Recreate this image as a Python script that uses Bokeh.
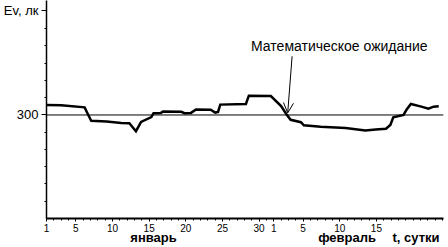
from bokeh.plotting import figure
from bokeh.models import FixedTicker, Span, Label, Arrow, OpenHead, Range1d, LinearAxis
from bokeh.embed import file_html
from bokeh.resources import INLINE

# ---- data ----
days = [1.0, 3.0, 6.2, 6.7, 7.1, 9.2, 11.2, 12.3, 13.2, 13.9, 15.3, 15.6, 16.6, 16.9,
        19.4, 19.8, 20.7, 21.4, 23.4, 24.0, 24.4, 24.7, 28.2, 28.6, 31.6, 33.0, 33.7,
        34.3, 35.7, 36.1, 38.4, 41.8, 44.5, 45.9, 47.3, 47.9, 48.3, 49.7, 50.1, 50.7,
        52.0, 53.1, 53.8, 54.5]
lux = [329, 328, 322, 300, 283, 281, 277, 276, 253, 280, 294, 305, 306, 310,
       309, 305, 306, 316, 315, 307, 309, 330, 332, 356, 355, 326, 303,
       286, 279, 270, 266, 262, 255, 258, 260, 271, 293, 300, 315, 332,
       325, 318, 324, 325]
mean_lux = 300
jan_len = 31
jan_ticks = [1, 5, 10, 15, 20, 25, 30]
feb_ticks = [1, 5, 10, 15]
y_label = "Ev, лк"
y_label_at = 603
caption_at = [15.6, 42.0, 51.4]
captions = ["январь", "февраль", "t, сутки"]
note = "Математическое ожидание"
note_at = (28.9, 499)
arrow_from = (34.5, 470)
arrow_day = 33.9

FONT = "Liberation Sans"

major = jan_ticks + [jan_len + d for d in feb_ticks]
overrides = {d: str(d) for d in jan_ticks}
overrides.update({jan_len + d: str(d) for d in feb_ticks})

p = figure(width=448, height=247, output_backend="svg", toolbar_location=None,
           x_range=Range1d(1, 55.15), y_range=Range1d(0, 631.7),
           min_border_left=45, min_border_right=5, min_border_top=0,
           min_border_bottom=28)
p.outline_line_color = None
p.xgrid.visible = False
p.ygrid.visible = False
p.background_fill_color = "white"
p.border_fill_color = "white"

# x axis (day numbers)
p.xaxis.ticker = FixedTicker(ticks=major, minor_ticks=list(range(1, 56)))
p.xaxis.major_label_overrides = overrides
p.xaxis.major_tick_in = 0
p.xaxis.major_tick_out = 3
p.xaxis.minor_tick_in = 0
p.xaxis.minor_tick_out = 2
p.xaxis.axis_line_width = 2
p.xaxis.major_label_standoff = 2
p.xaxis.major_label_text_font = FONT
p.xaxis.major_label_text_font_size = "10px"
p.xaxis.major_label_text_color = "black"
p.xaxis.axis_line_color = "black"
p.xaxis.major_tick_line_color = "black"
p.xaxis.minor_tick_line_color = "black"

# second x axis carrying month captions
cap_axis = LinearAxis(ticker=FixedTicker(ticks=caption_at, minor_ticks=[]),
                      major_label_overrides=dict(zip(caption_at, captions)),
                      axis_line_color=None, major_tick_line_color=None,
                      minor_tick_line_color=None, major_label_standoff=-11,
                      major_label_text_font=FONT, major_label_text_font_size="13px",
                      major_label_text_font_style="bold", major_label_text_color="black")
p.add_layout(cap_axis, "below")

# y axis
p.yaxis.ticker = FixedTicker(ticks=[mean_lux, y_label_at],
                             minor_ticks=[50, 100, 150, 200, 250, 350, 400, 450, 500, 550])
p.yaxis.major_label_overrides = {mean_lux: str(mean_lux), y_label_at: y_label}
p.yaxis.major_tick_in = 0
p.yaxis.major_tick_out = 5
p.yaxis.minor_tick_in = 0
p.yaxis.minor_tick_out = 2
p.yaxis.axis_line_width = 1.5
p.yaxis.major_label_standoff = 3
p.yaxis.major_label_text_font = FONT
p.yaxis.major_label_text_font_size = "13px"
p.yaxis.major_label_text_color = "black"
p.yaxis.axis_line_color = "black"
p.yaxis.major_tick_line_color = "black"
p.yaxis.minor_tick_line_color = "black"

# mean line
p.add_layout(Span(location=mean_lux, dimension="width", line_color="black", line_width=1))

# data line
p.line(days, lux, line_color="black", line_width=2.5, line_join="miter")

# arrow + note
p.add_layout(Arrow(end=OpenHead(size=10, line_width=1, line_color="black"),
                   x_start=arrow_from[0], y_start=arrow_from[1],
                   x_end=arrow_day, y_end=mean_lux + 6,
                   line_width=1, line_color="black"))
p.add_layout(Label(x=note_at[0], y=note_at[1], text=note, text_baseline="middle",
                   text_align="left", text_font=FONT, text_font_size="14px",
                   text_color="black"))

open("out.html", "w").write(file_html(p, INLINE))
